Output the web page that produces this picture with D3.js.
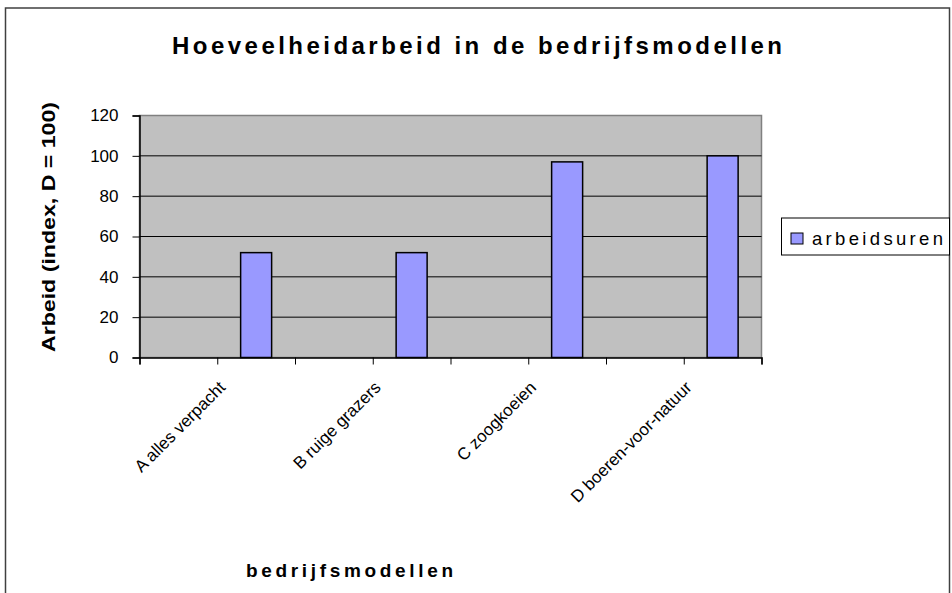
<!DOCTYPE html>
<html>
<head>
<meta charset="utf-8">
<script src="https://cdnjs.cloudflare.com/ajax/libs/d3/7.8.5/d3.min.js"></script>
<style>
	body { margin: 0; background: #fff; }
	text { font-family: "Liberation Sans", Arial, sans-serif; }
</style>
</head>
<body>
<div id="chart"></div>
<script>

// data
var categories = ["A alles verpacht", "B ruige grazers", "C zoogkoeien", "D boeren-voor-natuur"];
var series_names = ["", "arbeidsuren"];	// first one is empty, takes the left half of each group
var arbeidsuren = [52, 52, 97, 100];
var y_ticks = [0, 20, 40, 60, 80, 100, 120];

var chart_title = "Hoeveelheidarbeid in de bedrijfsmodellen";
var x_title = "bedrijfsmodellen";
var y_title = "Arbeid (index, D = 100)";

// global variables
var svg_w = 952;
var svg_h = 593;
var plot = {left: 139.5, right: 761.5, top: 115.5, bottom: 357.5};
var bar_fill = "#9999ff";

var svg = d3.select("#chart")
	.append("svg")
	.attr("width", svg_w)
	.attr("height", svg_h);

// outer frame (bottom is off the picture)
svg.append("rect")
	.attr("x", 5.5)
	.attr("y", 8)
	.attr("width", 944)
	.attr("height", 600)
	.attr("fill", "none")
	.attr("stroke", "#404040")
	.attr("stroke-width", 1.5);

// scales
var x_scale = d3.scaleBand()
	.domain(categories)
	.range([plot.left, plot.right]);

var x_inner = d3.scaleBand()
	.domain(series_names)
	.range([0, x_scale.bandwidth()])
	.paddingInner(0.6)
	.paddingOuter(0.3);

var y_scale = d3.scaleLinear()
	.domain([0, 120])
	.range([plot.bottom, plot.top]);

// slot scale just for the tick marks under the axis
var slot_scale = d3.scaleLinear()
	.domain([0, categories.length * series_names.length])
	.range([plot.left, plot.right]);

// plot background
svg.append("rect")
	.attr("x", plot.left)
	.attr("y", plot.top)
	.attr("width", plot.right - plot.left)
	.attr("height", plot.bottom - plot.top)
	.attr("fill", "#c0c0c0")
	.attr("stroke", "#808080")
	.attr("stroke-width", 1.5);

// gridlines
svg.append("g")
	.selectAll("line")
	.data(y_ticks.filter(function(d) { return d > 0 && d < 120; }))
	.enter()
	.append("line")
	.attr("x1", plot.left)
	.attr("x2", plot.right)
	.attr("y1", function(d) { return y_scale(d); })
	.attr("y2", function(d) { return y_scale(d); })
	.attr("stroke", "#000")
	.attr("stroke-width", 1);

// bars
svg.append("g")
	.selectAll("rect")
	.data(arbeidsuren)
	.enter()
	.append("rect")
	.attr("x", function(d, i) {
		return x_scale(categories[i]) + x_inner("arbeidsuren") + x_inner.bandwidth() / 2 - 15.5;
	})
	.attr("width", 31)
	.attr("y", function(d) { return y_scale(d); })
	.attr("height", function(d) { return plot.bottom - y_scale(d); })
	.attr("fill", bar_fill)
	.attr("stroke", "#000")
	.attr("stroke-width", 1.5);

// y axis
var y_axis = d3.axisLeft(y_scale)
	.tickValues(y_ticks)
	.tickSize(7)
	.tickPadding(14);

var y_g = svg.append("g")
	.attr("transform", "translate(" + plot.left + ",0)")
	.call(y_axis);
y_g.select("path").attr("stroke", "#000").attr("stroke-width", 1.5);
y_g.selectAll("line").attr("stroke", "#000");
y_g.selectAll("text")
	.attr("font-size", 17)
	.attr("font-family", "Liberation Sans, Arial, sans-serif")
	.attr("fill", "#000");

// x axis, ticks only
var x_axis = d3.axisBottom(slot_scale)
	.ticks(categories.length * series_names.length)
	.tickSize(7)
	.tickFormat("");

var x_g = svg.append("g")
	.attr("transform", "translate(0," + plot.bottom + ")")
	.call(x_axis);
x_g.select("path").attr("stroke", "#000").attr("stroke-width", 1.5);
x_g.selectAll("line").attr("stroke", "#000");

// rotated category labels
svg.append("g")
	.selectAll("text")
	.data(categories)
	.enter()
	.append("text")
	.attr("text-anchor", "end")
	.attr("font-size", 17)
	.attr("transform", function(d) {
		var cx = x_scale(d) + x_scale.bandwidth() / 2;
		return "translate(" + (cx + 9) + "," + (plot.bottom + 31) + ") rotate(-45)";
	})
	.text(function(d) { return d; });

// titles
svg.append("text")
	.attr("x", 172)
	.attr("y", 54)
	.attr("font-size", 24)
	.attr("font-weight", "bold")
	.attr("textLength", 610)
	.attr("lengthAdjust", "spacing")
	.text(chart_title);

svg.append("text")
	.attr("x", 246)
	.attr("y", 577)
	.attr("font-size", 19)
	.attr("font-weight", "bold")
	.attr("textLength", 207)
	.attr("lengthAdjust", "spacing")
	.text(x_title);

svg.append("text")
	.attr("transform", "translate(55,100) rotate(-90)")
	.attr("x", -252)
	.attr("font-size", 19)
	.attr("font-weight", "bold")
	.attr("textLength", 250)
	.attr("lengthAdjust", "spacingAndGlyphs")
	.text(y_title);

// legend
var legend = svg.append("g");
legend.append("rect")
	.attr("x", 781.5)
	.attr("y", 218)
	.attr("width", 168)
	.attr("height", 37)
	.attr("fill", "#fff")
	.attr("stroke", "#000")
	.attr("stroke-width", 1);
legend.append("rect")
	.attr("x", 791)
	.attr("y", 233)
	.attr("width", 12)
	.attr("height", 11)
	.attr("fill", bar_fill)
	.attr("stroke", "#000")
	.attr("stroke-width", 1);
legend.append("text")
	.attr("x", 812)
	.attr("y", 245)
	.attr("font-size", 18.5)
	.attr("textLength", 131)
	.attr("lengthAdjust", "spacing")
	.text(series_names[1]);

</script>
</body>
</html>
